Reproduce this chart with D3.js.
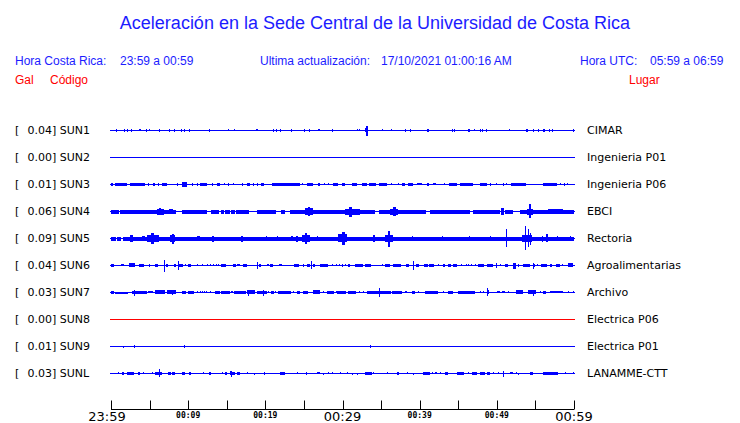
<!DOCTYPE html>
<html><head><meta charset="utf-8">
<script src="https://cdn.jsdelivr.net/npm/d3@7"></script>
<style>body{margin:0;background:#fff}svg{display:block}</style>
</head><body><svg id="c" width="740" height="423"></svg>
<script>
// ---------- DATA ----------
const title = "Aceleración en la Sede Central de la Universidad de Costa Rica";
const localWindow = "23:59 a 00:59";
const utcWindow = "05:59 a 06:59";
const lastUpdate = "17/10/2021 01:00:16 AM";

const codes  = ["SUN1","SUN2","SUN3","SUN4","SUN5","SUN6","SUN7","SUN8","SUN9","SUNL"];
const places = ["CIMAR","Ingenieria P01","Ingenieria P06","EBCI","Rectoria","Agroalimentarias","Archivo","Electrica P06","Electrica P01","LANAMME-CTT"];
const peaks  = [0.04, 0.00, 0.01, 0.06, 0.09, 0.04, 0.03, 0.00, 0.01, 0.03];

// time axis (minutes after 23:59)
const tickMinutes = [0,5,10,15,20,25,30,35,40,45,50,55,60];
const tickLabels  = ["23:59","","00:09","","00:19","","00:29","","00:39","","00:49","","00:59"];
const majorLabels = ["23:59","00:29","00:59"];

// envelope segments per station: [startMinute, endMinute, relative amplitude 0-100]
const sun1 = [[0.65,0.65,11],[1.73,1.73,11],[2.03,2.03,11],[2.59,2.59,11],[3.6,3.9,8],[4.55,4.7,11],[4.97,4.97,8],[6.26,6.26,11],[7.56,7.56,11],[8.16,8.16,11],[9.12,9.12,11],[9.5,9.65,11],[10.15,10.15,11],[12.74,12.74,11],[15.21,15.21,8],[15.98,15.98,8],[18.8,19.1,8],[21.04,21.04,11],[21.34,21.34,11],[21.9,21.9,11],[23.37,23.37,11],[25.05,25.05,11],[25.6,25.75,11],[26.8,27.0,8],[28.68,28.68,11],[31.92,31.92,8],[32.14,32.14,8],[32.9,33.3,15],[33.0,33.2,37],[35.16,35.16,8],[36.28,36.28,8],[38.14,38.14,11],[38.75,38.75,11],[40.9,41.2,11],[44.15,44.15,11],[44.49,44.49,11],[46.3,46.5,11],[47.08,47.08,8],[47.82,47.82,11],[48.12,48.12,11],[48.55,48.55,11],[51.62,51.62,8],[53.8,54.05,11],[54.73,54.73,11],[55.38,55.38,11],[56.0,56.3,11],[56.76,56.76,11],[57.19,57.19,11],[59.83,59.83,11]];
const sun2 = [];
const sun3 = [[0,0.3,11],[0.52,2.03,11],[2.46,4.41,11],[4.84,4.84,11],[5.5,5.7,11],[6.13,6.13,11],[6.57,7.21,11],[8.51,8.51,11],[9.16,9.81,18],[10.45,10.45,11],[11.1,11.1,11],[11.53,12.4,11],[13.05,13.05,11],[13.69,14.04,11],[14.69,14.69,8],[15.21,15.21,11],[15.77,15.77,8],[16.93,16.93,11],[17.58,18.01,11],[18.36,18.36,11],[18.88,18.88,11],[19.44,19.83,11],[20.91,24.49,11],[24.71,24.71,8],[25.36,26.09,11],[26.87,27.08,11],[27.65,27.65,8],[28.17,28.17,8],[28.81,29.46,11],[29.89,30.32,11],[31.19,31.84,11],[32.48,33.13,11],[33.48,34.43,11],[34.78,35.81,11],[36.28,36.28,8],[37.24,37.24,8],[37.67,38.1,11],[38.53,39.18,11],[39.61,40.26,8],[40.91,41.13,11],[41.77,42.2,8],[43.2,43.2,8],[43.8,44.8,11],[45.23,46.96,11],[47.82,48.68,11],[49.11,49.11,11],[49.89,49.89,8],[50.76,50.76,11],[51.19,51.19,8],[51.79,53.78,11],[55.94,57.75,11],[58.19,58.19,8],[58.75,58.75,11],[59.05,59.05,8]];
const sun4 = [[0,1.0,13],[1.2,8.5,13],[9.2,12.4,13],[12.9,13.9,13],[14.2,14.6,13],[14.8,15.4,13],[15.6,16.1,13],[16.2,17.9,13],[18.96,21.47,13],[21.99,22.55,13],[23.2,34.2,13],[34.77,40.9,13],[41.3,46.52,13],[46.95,50.41,13],[51.06,52.14,13],[53.0,60,13],
  [5.9,6.8,22],[6.2,6.5,26],[7.5,8.0,18],[25.1,26.2,26],[25.5,25.8,33],[30.3,32.2,22],[30.8,31.2,37],[36.2,37.2,22],[36.5,36.9,33],[50.5,50.9,26],[53.9,54.7,22],[54.2,54.45,52],[56.6,58.6,17]];
const sun5 = [[0,0.6,14],[0.8,1.3,14],[1.5,29.7,14],[29.7,60,14],
  [2.5,2.9,26],[4.0,4.4,18],[4.7,6.3,26],[5.2,5.6,42],[7.7,8.4,26],[7.9,8.1,37],[11.1,11.5,15],[13.1,13.4,22],[16.8,17.1,22],[20.04,20.04,15],[21.47,21.47,15],[23.3,23.5,18],[24.0,24.3,22],[24.8,25.8,26],[25.1,25.4,42],[26.65,26.65,15],
  [29.4,30.6,30],[29.9,30.3,48],[33.9,34.1,26],[35.5,36.6,26],[35.9,36.2,59],[38.96,38.96,18],[42.85,42.85,18],[46.44,46.44,18],[49.11,49.11,15],[51.2,51.35,67],[53.2,54.5,26],[53.7,53.8,89],[54.0,54.05,67],[54.3,54.35,44],[55.8,55.8,22],[56.4,56.7,30],[57.8,57.8,18],[59.5,59.5,15]];
const sun6 = [[0,0.39,11],[1.25,1.6,8],[2.38,3.11,15],[3.67,4.32,11],[4.97,4.97,11],[5.7,6.05,11],[6.9,6.95,44],[7.13,7.43,11],[8.16,8.42,11],[8.64,8.66,33],[8.86,9.37,11],[9.59,9.59,8],[10.02,10.45,11],[11.1,11.1,8],[11.75,11.75,8],[12.4,12.4,8],[12.83,12.83,8],[13.26,13.26,8],[13.6,13.6,8],[13.91,13.91,8],[14.21,14.9,11],[15.77,16.2,11],[16.37,16.72,8],[17.06,17.58,11],[18.9,18.9,26],[19.22,19.53,11],[20.17,20.39,8],[20.6,20.95,11],[21.82,22.25,8],[23.72,24.41,11],[24.84,24.84,11],[25.36,25.7,11],[25.92,25.94,30],[26.13,26.44,11],[27.08,28.17,11],[28.68,28.68,8],[29.16,29.16,8],[29.59,29.59,8],[29.89,29.89,11],[30.32,30.32,8],[30.76,30.97,11],[31.62,32.7,11],[32.92,33.65,11],[35.08,35.08,8],[35.51,36.16,11],[36.5,37.54,11],[38.23,38.66,11],[39.18,39.2,33],[39.53,39.96,11],[40.56,41.13,11],[41.25,41.9,11],[42.42,42.42,8],[43.07,43.28,11],[43.71,44.15,11],[44.36,44.88,11],[45.36,45.36,8],[46.0,46.0,8],[46.31,46.31,8],[46.61,46.61,8],[47.17,47.17,8],[47.52,48.25,11],[48.68,49.46,11],[49.89,49.89,18],[50.41,50.41,8],[51.06,51.49,11],[52.14,52.57,22],[52.79,52.79,11],[53.35,54.3,11],[54.64,54.95,11],[54.73,54.73,22],[55.16,55.16,8],[55.68,56.46,11],[56.89,57.1,11],[57.67,58.19,11],[58.4,58.4,8],[59.27,59.91,15]];
const sun7 = [[0,0.39,11],[0.52,2.25,6],[2.68,4.62,11],[3.02,3.02,22],[4.84,5.49,8],[5.7,7.0,15],[7.21,8.42,15],[7.86,7.86,18],[9.16,9.72,11],[10.02,10.76,11],[11.1,11.1,8],[11.53,11.53,8],[11.75,11.75,8],[12.05,12.05,8],[12.31,12.31,8],[12.83,12.83,8],[13.48,14.13,11],[14.25,15.42,11],[15.55,15.85,8],[15.98,17.58,11],[17.58,18.66,15],[17.8,17.8,22],[18.88,20.17,11],[19.65,19.65,22],[20.39,20.39,8],[20.69,21.04,11],[21.25,21.25,8],[21.69,23.41,11],[23.63,23.63,8],[24.06,24.49,11],[24.92,25.57,11],[26.22,27.17,15],[27.52,27.52,8],[27.95,28.81,11],[29.16,29.16,8],[29.33,30.54,11],[30.76,31.84,11],[32.18,32.18,8],[32.7,32.7,8],[33.13,34.64,11],[34.77,34.8,33],[34.86,36.24,11],[36.37,37.67,11],[38.1,38.32,8],[38.96,39.4,11],[39.83,39.83,8],[40.69,42.42,11],[43.07,43.07,8],[43.71,44.36,11],[45.01,47.17,11],[47.82,47.82,8],[48.25,48.25,8],[48.68,48.9,15],[48.78,48.8,30],[49.98,50.32,8],[50.63,51.06,8],[51.49,51.49,8],[52.48,53.43,15],[54.08,55.16,15],[54.73,54.73,22],[55.59,55.59,8],[56.03,56.46,11],[56.89,58.62,8],[59.27,59.27,8],[59.91,59.91,8]];
const sun8 = [];
const sun9 = [[1.6,1.6,6],[3.02,3.02,11],[9.5,9.5,11],[33.6,33.6,11]];
const sunl = [[0.95,0.95,8],[1.38,1.6,11],[2.03,2.9,11],[3.54,3.76,11],[4.1,4.1,8],[5.27,5.27,8],[5.7,6.57,11],[6.26,6.26,30],[7.34,7.73,11],[7.86,8.29,11],[9.16,9.59,11],[10.15,10.45,11],[11.88,12.05,8],[12.74,12.96,11],[14.43,14.43,8],[14.77,14.99,11],[15.42,15.64,15],[15.5,15.5,22],[15.64,16.07,11],[16.29,16.63,11],[17.58,17.58,8],[18.58,18.58,6],[19.87,19.87,11],[21.9,22.55,11],[24.06,24.06,8],[25.23,25.23,11],[26.65,27.0,8],[27.52,27.52,6],[28.17,28.17,8],[28.68,28.68,8],[29.68,29.68,8],[30.54,30.54,8],[31.19,31.19,6],[31.84,31.84,6],[32.92,33.78,11],[34.0,34.0,8],[35.72,35.72,8],[37.02,37.24,11],[38.32,38.32,8],[39.18,39.18,6],[40.48,41.34,11],[41.56,41.56,8],[41.99,42.2,8],[42.63,42.63,8],[43.28,43.72,11],[44.8,45.75,11],[46.31,46.31,8],[46.74,47.39,11],[47.82,48.47,11],[48.68,49.11,11],[49.55,49.55,8],[50.19,50.19,8],[50.84,50.84,22],[51.71,52.14,8],[52.48,52.48,8],[52.79,52.79,6],[54.3,54.64,11],[56.03,57.97,11],[58.83,58.83,8],[59.91,59.91,8]];

const envelopes = [sun1,sun2,sun3,sun4,sun5,sun6,sun7,sun8,sun9,sunl];

// ---------- DRAW ----------
const svg = d3.select("#c");
const BLUE = "#0000ff", RED = "#ff0000";
const textBlue = "#1c1cff";
const sans = "'Liberation Sans', Arial, sans-serif";
const dv = "'DejaVu Sans', sans-serif";

const x = d3.scaleLinear().domain([0, 60]).range([111, 574]);
const y = d3.scalePoint().domain(codes).range([130, 373]);
const amp = d3.scaleLinear().domain([0, 100]).range([0, 13.5]);
const colorOf = code => code === "SUN8" ? RED : BLUE;

// title & header
svg.append("text").attr("x", 375).attr("y", 29).attr("text-anchor", "middle")
  .attr("font-family", sans).attr("font-size", 18).attr("fill", textBlue).text(title);

const hdr = [
  [15, "Hora Costa Rica:"], [120, localWindow],
  [260, "Ultima actualización:"], [381, lastUpdate],
  [580, "Hora UTC:"], [650, utcWindow]
];
svg.selectAll("text.hdr").data(hdr).enter().append("text").attr("class","hdr")
  .attr("x", d => d[0]).attr("y", 65).attr("font-family", sans).attr("font-size", 12)
  .attr("fill", textBlue).text(d => d[1]);

const sub = [[15, "Gal"], [50, "Código"], [629, "Lugar"]];
svg.selectAll("text.sub").data(sub).enter().append("text").attr("class","sub")
  .attr("x", d => d[0]).attr("y", 84).attr("font-family", sans).attr("font-size", 12)
  .attr("fill", RED).text(d => d[1]);

// rows
const rows = svg.selectAll("g.row").data(codes).enter().append("g").attr("class", "row");

rows.append("text").attr("x", 15).attr("y", c => y(c) + 4.3)
  .attr("font-family", dv).attr("font-size", 11).attr("fill", "#000").text("[");
rows.append("text").attr("x", 27.5).attr("y", c => y(c) + 4.3)
  .attr("font-family", dv).attr("font-size", 11).attr("fill", "#000")
  .text((c, i) => d3.format(".2f")(peaks[i]) + "] " + c);
rows.append("text").attr("x", 587).attr("y", c => y(c) + 4.3)
  .attr("font-family", dv).attr("font-size", 11).attr("fill", "#000")
  .text((c, i) => places[i]);

rows.append("line")
  .attr("x1", x(0) - 1).attr("x2", x(60) + 1)
  .attr("y1", c => y(c) + 0.5).attr("y2", c => y(c) + 0.5)
  .attr("stroke", c => colorOf(c)).attr("stroke-width", 1);

rows.each(function (c, i) {
  d3.select(this).selectAll("rect").data(envelopes[i]).enter().append("rect")
    .attr("x", d => Math.round(x(d[0])))
    .attr("width", d => Math.max(1, Math.round(x(d[1]) - x(d[0]))))
    .attr("y", d => Math.round(y(c) + 0.5 - amp(d[2])))
    .attr("height", d => Math.max(1, Math.round(2 * amp(d[2]))))
    .attr("fill", colorOf(c));
});

// axis
const axisY = 409;
const ax = svg.append("g").attr("transform", `translate(0,${axisY})`);
ax.append("line").attr("x1", x(0)).attr("x2", x(60)).attr("y1", 0.5).attr("y2", 0.5)
  .attr("stroke", "#000").attr("stroke-width", 1);
ax.selectAll("line.tick").data(tickMinutes).enter().append("line").attr("class", "tick")
  .attr("x1", d => Math.round(x(d)) + 0.5).attr("x2", d => Math.round(x(d)) + 0.5)
  .attr("y1", 0.5).attr("y2", -8.5).attr("stroke", "#000").attr("stroke-width", 1);
const isMajor = i => majorLabels.includes(tickLabels[i]);
ax.selectAll("text.tl").data(tickMinutes).enter().append("text").attr("class", "tl")
  .attr("x", d => x(d))
  .attr("dx", (d, i) => i === 0 ? -4 : 0)
  .attr("y", (d, i) => isMajor(i) ? 11.5 : 8.5)
  .attr("text-anchor", "middle")
  .attr("font-family", (d, i) => isMajor(i) ? dv : "'DejaVu Sans Mono', monospace")
  .attr("font-weight", (d, i) => isMajor(i) ? "normal" : "bold")
  .attr("font-size", (d, i) => isMajor(i) ? 13 : 8)
  .attr("fill", "#000")
  .text((d, i) => tickLabels[i]);
</script>
</body></html>
